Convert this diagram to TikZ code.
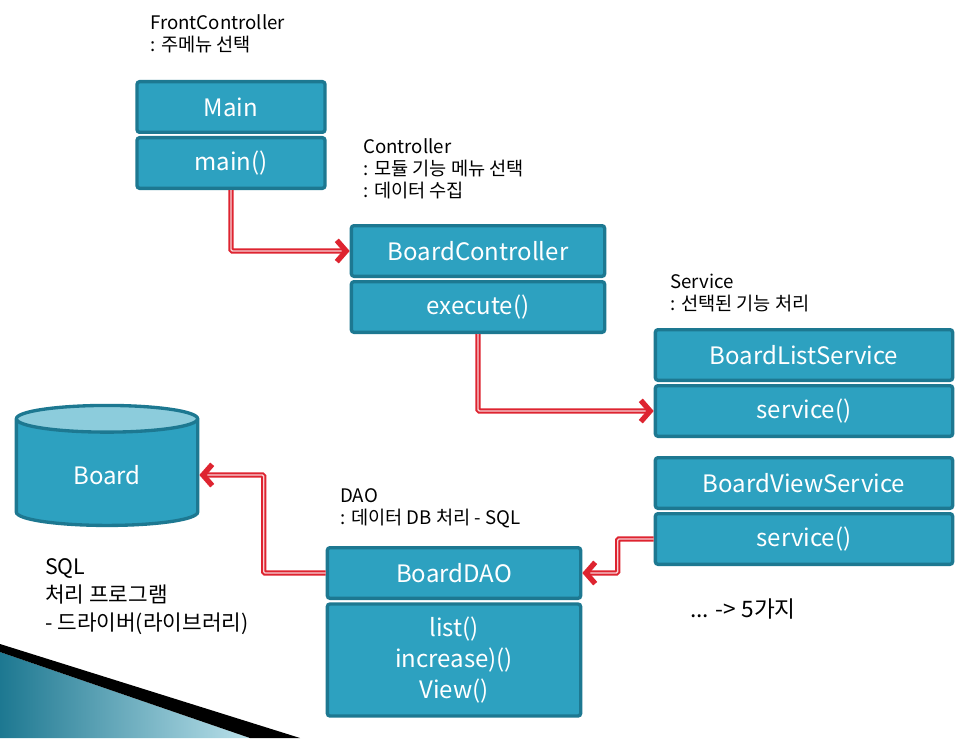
\documentclass[tikz,border=0pt]{standalone}
\usepackage{fontspec}
\setmainfont{Noto Sans CJK KR}
\usetikzlibrary{arrows.meta,positioning,shapes.geometric,calc}
\definecolor{boxfill}{HTML}{2DA1C0}
\definecolor{boxedge}{HTML}{1D7891}
\definecolor{topfill}{HTML}{8CCCDC}
\definecolor{arrowred}{HTML}{DE2430}
\tikzset{
	box/.style = {
			rectangle, rounded corners=2pt,
			fill=boxfill, draw=boxedge, line width=2.5pt,
			text=white, font=\fontsize{18}{24}\selectfont,
			minimum height=38pt, inner sep=0pt, align=center,
		},
	note/.style = {
			anchor=north west, align=left, inner sep=0pt,
			font=\fontsize{14}{16.5}\selectfont,
		},
	call/.style = {
			draw=arrowred, line width=4pt, rounded corners=1pt,
			-{Straight Barb[length=7pt,width=16pt]},
			postaction={draw=white!80!arrowred, line width=1pt, -, shorten >=6pt},
		}
}
\begin{document}
\begin{tikzpicture}[x=0.75pt,y=-0.75pt]
	\useasboundingbox (0,0) rectangle (973,738);
	\fill[white] (0,0) rectangle (973,738);

	% corner band
	\shade[left color=boxedge, right color=topfill!60] (0,652) -- (250,738) -- (0,738) -- cycle;
	\fill[black] (0,644) -- (300,738) -- (250,738) -- (0,652) -- cycle;

	% boxes
	\node[box, minimum width=141pt] (mainT) at (231,107) {Main};
	\node[box, minimum width=141pt] (mainB) at (231,163) {main()};
	\node[box, minimum width=190pt] (ctlT) at (478,251) {BoardController};
	\node[box, minimum width=190pt] (ctlB) at (478,307) {execute()};
	\node[box, minimum width=223pt] (listT) at (804,355) {BoardListService};
	\node[box, minimum width=223pt] (listB) at (804,411) {service()};
	\node[box, minimum width=223pt] (viewT) at (804,483) {BoardViewService};
	\node[box, minimum width=223pt] (viewB) at (804,539) {service()};
	\node[box, minimum width=190pt] (daoT) at (454,573) {BoardDAO};
	\node[box, minimum width=190pt, minimum height=84pt, font=\fontsize{18}{23}\selectfont] (daoB) at (454,660) {list()\\increase)()\\View()};
	\node[cylinder, shape border rotate=90, aspect=0.35, draw=boxedge, line width=2.5pt,
		cylinder uses custom fill, cylinder body fill=boxfill, cylinder end fill=topfill,
		minimum width=136pt, minimum height=90pt, text=white,
		font=\fontsize{18}{24}\selectfont] (board) at (107,475) {Board};

	% notes
	\node[note] (nFront) at (150,14) {FrontController\\: 주메뉴 선택};
	\node[note] (nCtl) at (363,138) {Controller\\: 모듈 기능 메뉴 선택\\: 데이터 수집};
	\node[note] (nSvc) at (670,274) {Service\\: 선택된 기능 처리};
	\node[note] (nDao) at (340,488) {DAO\\: 데이터 DB 처리 - SQL};
	\node[note, font=\fontsize{16}{21}\selectfont] (nSql) at (45,558) {SQL\\처리 프로그램\\- 드라이버(라이브러리)};
	\node[note, font=\fontsize{17}{20}\selectfont] (nMore) at (690,598) {... -> 5가지};

	% calls
	\draw[call] (mainB.south) |- (ctlT.west);
	\draw[call] (ctlB.south) |- (listB.west);
	\draw[call] (viewB.west) -- ++(-36,0) |- (daoT.east);
	\draw[call] (daoT.west) -- ++(-62,0) |- (board.east);
\end{tikzpicture}
\end{document}
